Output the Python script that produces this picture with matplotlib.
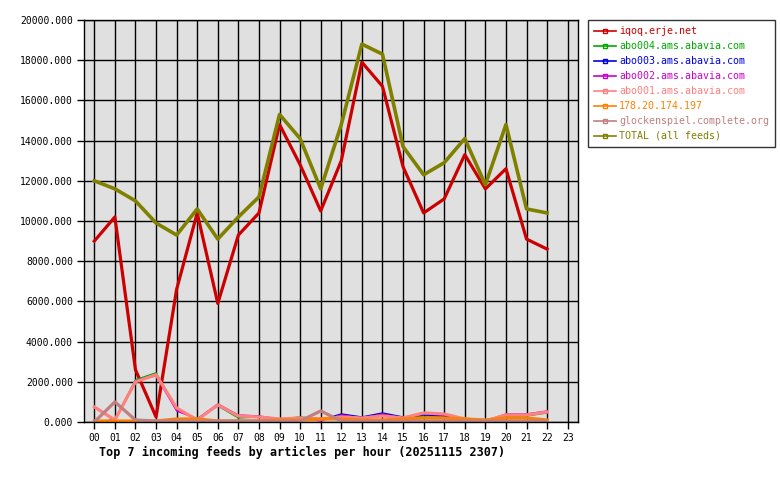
import matplotlib
matplotlib.use('Agg')
import matplotlib.pyplot as plt
from matplotlib.lines import Line2D
from matplotlib.ticker import FormatStrFormatter

hours = list(range(23))
hour_labels = ['%02d' % h for h in range(24)]

iqoq = [9000, 10200, 2600, 250, 6600, 10400, 5900, 9300, 10400, 14800, 12800, 10500,
        13000, 17900, 16700, 12700, 10400, 11100, 13300, 11600, 12600, 9100, 8600]
abo004 = [0, 100, 2100, 2450, 650, 150, 800, 200, 250, 150, 250, 150,
          300, 200, 350, 200, 300, 300, 100, 50, 300, 300, 450]
abo003 = [0, 100, 2050, 2350, 600, 150, 850, 300, 250, 150, 200, 100,
          400, 250, 450, 250, 350, 300, 100, 50, 350, 350, 500]
abo002 = [0, 100, 2050, 2300, 550, 150, 900, 350, 300, 150, 200, 50,
          350, 200, 400, 200, 400, 350, 100, 50, 400, 400, 550]
abo001 = [750, 100, 2000, 2350, 700, 100, 850, 300, 250, 150, 200, 150,
          250, 200, 300, 200, 450, 400, 150, 50, 350, 350, 500]
ip_feed = [50, 50, 50, 50, 150, 150, 50, 50, 50, 100, 100, 150,
           150, 100, 100, 150, 200, 200, 150, 100, 200, 200, 100]
glocken = [0, 1000, 100, 50, 50, 50, 50, 50, 50, 50, 50, 550,
           50, 50, 50, 50, 50, 50, 50, 50, 50, 50, 50]
total = [12000, 11600, 11000, 9900, 9300, 10600, 9100, 10200, 11200, 15300, 14100, 11600,
         14800, 18800, 18300, 13700, 12300, 12900, 14100, 11800, 14800, 10600, 10400]

series = [
    ('iqoq.erje.net', iqoq, '#CC0000', 2.3),
    ('abo004.ams.abavia.com', abo004, '#00AA00', 1.0),
    ('abo003.ams.abavia.com', abo003, '#0000DD', 1.0),
    ('abo002.ams.abavia.com', abo002, '#CC00CC', 1.0),
    ('abo001.ams.abavia.com', abo001, '#FF8080', 2.3),
    ('178.20.174.197', ip_feed, '#FF8000', 2.3),
    ('glockenspiel.complete.org', glocken, '#C08080', 2.3),
    ('TOTAL (all feeds)', total, '#808000', 2.6),
]

mono = 'DejaVu Sans Mono'
fig = plt.figure(figsize=(7.8, 4.8), dpi=100)
ax = fig.add_axes([84 / 780, 58 / 480, 494 / 780, 402 / 480])
ax.set_facecolor('#E0E0E0')

for name, vals, color, lw in series:
    ax.plot(hours, vals, color=color, linewidth=lw)

ax.set_xlim(-0.5, 23.5)
ax.set_ylim(0, 20000)
ax.set_xticks(range(24))
ax.set_xticklabels(hour_labels, fontfamily=mono, fontsize=7)
ax.set_yticks(range(0, 20001, 2000))
ax.yaxis.set_major_formatter(FormatStrFormatter('%.3f'))
for lbl in ax.get_yticklabels():
    lbl.set_fontfamily(mono)
    lbl.set_fontsize(7)
ax.tick_params(axis='both', direction='out', length=5, width=1, color='black', pad=3)
ax.grid(True, color='black', linewidth=1)
ax.set_axisbelow(True)
for sp in ax.spines.values():
    sp.set_color('black')
    sp.set_linewidth(1)

fig.text(99 / 780, 1 - 452 / 480, 'Top 7 incoming feeds by articles per hour (20251115 2307)',
         fontfamily=mono, fontsize=8.5, fontweight='bold', va='center', ha='left')

leg_handles = [Line2D([0], [0], color=c, linewidth=1.2, marker='s', markersize=3,
                      markerfacecolor='none', markeredgecolor=c)
               for _, _, c, _ in series]
leg = fig.legend(leg_handles, [s[0] for s in series], loc='upper left',
                 bbox_to_anchor=(588 / 780, 1 - 20 / 480), frameon=True, fancybox=False,
                 prop={'family': mono, 'size': 7.2}, handlelength=2.2, handletextpad=0.3,
                 labelspacing=0.5, borderpad=0.6, borderaxespad=0)
leg.get_frame().set_edgecolor('black')
leg.get_frame().set_linewidth(1)
for txt, (_, _, c, _) in zip(leg.get_texts(), series):
    txt.set_color(c)

fig.savefig('out.png', dpi=100)
